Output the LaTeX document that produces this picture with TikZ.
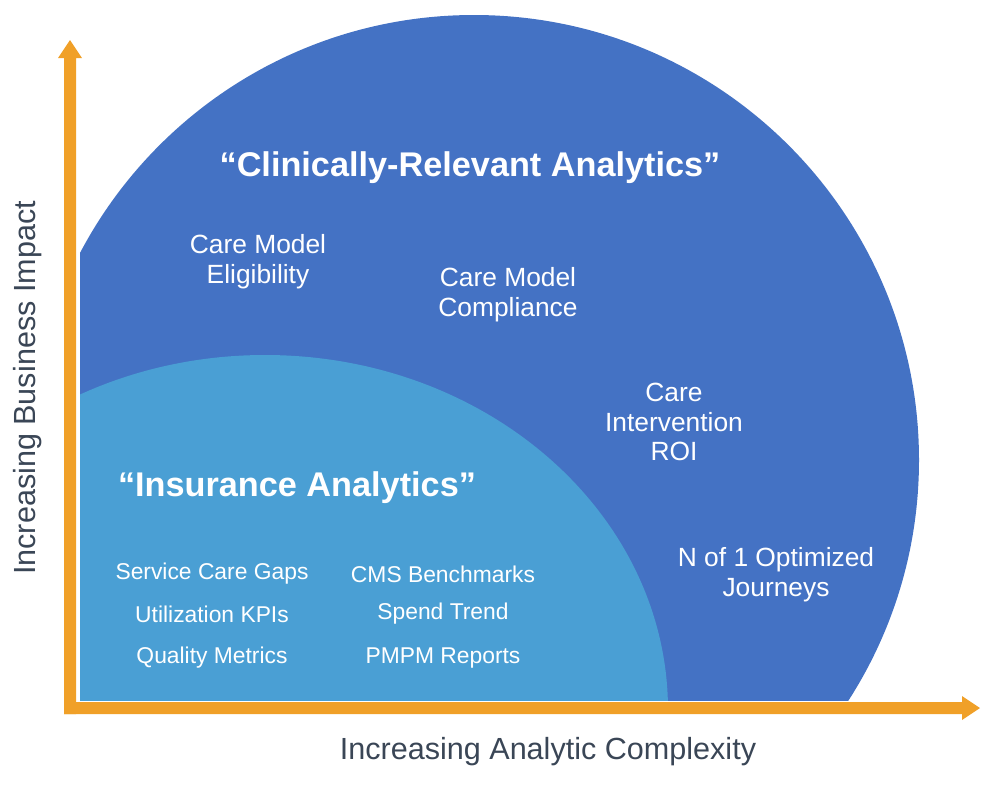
\documentclass[tikz,border=0pt]{standalone}
\usepackage{fontspec}
\setmainfont{Liberation Sans}
\definecolor{dblue}{HTML}{4472C4}
\definecolor{lblue}{HTML}{4A9FD4}
\definecolor{orng}{HTML}{F0A028}
\definecolor{axtxt}{HTML}{3A4656}
\begin{document}
\begin{tikzpicture}[x=0.02cm,y=-0.02cm,
  lab/.style={text=white,align=center,font=\fontsize{15}{17}\selectfont},
  sm/.style={text=white,font=\fontsize{13}{15}\selectfont},
  ttl/.style={text=white,font=\bfseries\fontsize{19.5}{22}\selectfont},
  axl/.style={text=axtxt,font=\fontsize{17.4}{20}\selectfont}]
\useasboundingbox (0,0) rectangle (1000,788);
\begin{scope}
\clip (80,0) rectangle (1000,700);
\fill[dblue] (474,460) circle [radius=445*0.02cm];
\fill[lblue] (265,710) ellipse [x radius=403*0.02cm, y radius=355*0.02cm];
\end{scope}
% axes
\fill[orng] (64,714) -- (76,714) -- (76,58) -- (82,58) -- (70,40) -- (58,58) -- (64,58) -- cycle;
\fill[orng] (64,702) -- (962,702) -- (962,696) -- (980,708) -- (962,720) -- (962,714) -- (64,714) -- cycle;
\node[ttl] (t1) at (470,168) {“Clinically-Relevant Analytics”};
\node[lab] (a) at (258,262) {Care Model\\Eligibility};
\node[lab] (b) at (508,295) {Care Model\\Compliance};
\node[lab] (c) at (674,422) {Care\\Intervention\\ROI};
\node[lab] (d) at (776,575) {N of 1 Optimized\\Journeys};
\node[ttl] (t2) at (297,488) {“Insurance Analytics”};
\node[sm] (s1) at (212,574) {Service Care Gaps};
\node[sm] (s2) at (212,614) {Utilization KPIs};
\node[sm] (s3) at (212,658) {Quality Metrics};
\node[sm] (s4) at (443,574) {CMS Benchmarks};
\node[sm] (s5) at (443,614) {Spend Trend};
\node[sm] (s6) at (443,658) {PMPM Reports};
\node[axl,rotate=90] (yl) at (28,388) {Increasing Business Impact};
\node[axl] (xl) at (548,752) {Increasing Analytic Complexity};
\end{tikzpicture}
\end{document}
